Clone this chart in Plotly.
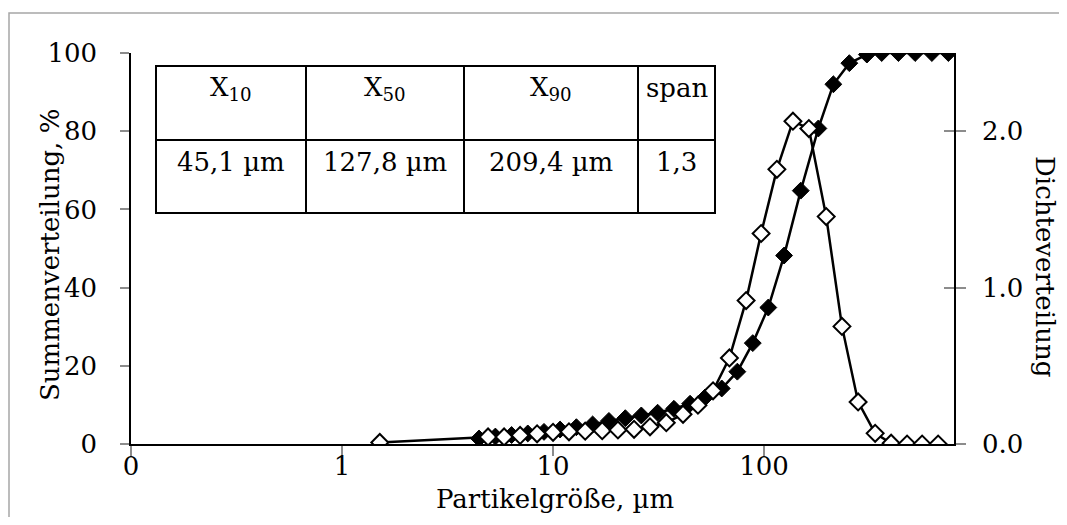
import plotly.graph_objects as go

# Summenverteilung (cumulative, %) - filled diamonds, left axis
size_q3 = [4.46, 5.33, 6.36, 7.59, 9.06, 10.8, 12.9, 15.4, 18.4, 22.0, 26.2, 31.3, 37.4, 44.6,
           52.5, 63.0, 74.7, 88.4, 104.7, 124.4, 149.2, 180.8, 213, 253.5, 307, 361, 433, 520, 624, 747]
q3 = [1.4, 1.9, 2.3, 2.7, 3.1, 3.7, 4.3, 5.0, 5.9, 6.6, 7.3, 8.0, 9.0, 10.3,
      11.9, 14.2, 18.5, 25.8, 34.9, 48.2, 64.8, 80.7, 92.0, 97.4, 99.6, 100, 100, 100, 100, 100]

# Dichteverteilung (density) - open diamonds, right axis
size_dens = [1.51, 4.92, 5.86, 6.98, 8.40, 10.0, 11.9, 14.2, 17.1, 20.3, 24.2, 28.8, 34.4, 41.3,
             48.6, 57.3, 68.5, 82.2, 96.8, 115, 137, 163, 197, 234, 279, 336, 400, 476, 561, 668]
dens = [0.01, 0.045, 0.045, 0.055, 0.065, 0.075, 0.078, 0.082, 0.085, 0.09, 0.094, 0.11, 0.136, 0.19,
        0.248, 0.34, 0.55, 0.917, 1.346, 1.756, 2.064, 2.017, 1.454, 0.752, 0.269, 0.068, 0.005, 0, 0, 0]

x_tickvals = [0.1, 1, 10, 100]
x_ticktext = ["0", "1", "10", "100"]

table_header = ["X<sub>10</sub>", "X<sub>50</sub>", "X<sub>90</sub>", "span"]
table_values = ["45,1 µm", "127,8 µm", "209,4 µm", "1,3"]

# page body has an 8px margin, so the figure is drawn 8px in from the window edge
OFF = 8
W, H = 1067 - 2 * OFF, 525 - 2 * OFF
# plot area in window pixels
L, R, T, B = 131, 954, 53, 444
FONT = "DejaVu Serif"
FS = 26


def px(x):
    return (x - L) / (R - L)


def py(y):
    return (B - y) / (B - T)


fig = go.Figure()

fig.add_trace(go.Scatter(
    x=size_dens, y=dens, yaxis="y2", mode="lines+markers",
    line=dict(color="black", width=2.5),
    marker=dict(symbol="diamond", size=13, color="white", line=dict(color="black", width=2)),
    showlegend=False))

fig.add_trace(go.Scatter(
    x=size_q3, y=q3, mode="lines+markers",
    line=dict(color="black", width=2.5),
    marker=dict(symbol="diamond", size=13, color="black", line=dict(color="black", width=1)),
    showlegend=False))

# invisible trace to carry the inner half of the right-axis ticks
fig.add_trace(go.Scatter(x=[1], y=[0], yaxis="y3", mode="markers",
                         marker=dict(opacity=0), showlegend=False, hoverinfo="skip"))

shapes = []
# outer chart border
shapes.append(dict(type="rect", xref="paper", yref="paper",
                   x0=px(9), x1=px(1090), y0=py(13), y1=py(560),
                   line=dict(color="#a6a6a6", width=1.5)))

# inset table
cols = [156, 306, 464, 638, 715]
rows = [66, 140, 213]
shapes.append(dict(type="rect", xref="paper", yref="paper",
                   x0=px(cols[0]), x1=px(cols[-1]), y0=py(rows[0]), y1=py(rows[-1]),
                   line=dict(color="black", width=2), fillcolor="white", layer="above"))
for c in cols[1:-1]:
    shapes.append(dict(type="line", xref="paper", yref="paper",
                       x0=px(c), x1=px(c), y0=py(rows[0]), y1=py(rows[-1]),
                       line=dict(color="black", width=2), layer="above"))
shapes.append(dict(type="line", xref="paper", yref="paper",
                   x0=px(cols[0]), x1=px(cols[-1]), y0=py(rows[1]), y1=py(rows[1]),
                   line=dict(color="black", width=2), layer="above"))

txt_font = dict(family=FONT, size=FS, color="black")
annotations = []
for i in range(4):
    xc = (cols[i] + cols[i + 1]) / 2
    annotations.append(dict(text=table_header[i], x=px(xc), y=py(88), xref="paper", yref="paper",
                            xanchor="center", yanchor="middle", showarrow=False, font=txt_font))
    annotations.append(dict(text=table_values[i], x=px(xc), y=py(162), xref="paper", yref="paper",
                            xanchor="center", yanchor="middle", showarrow=False, font=txt_font))

# axis titles
annotations.append(dict(text="Summenverteilung, %", x=px(50), y=py(255), xref="paper", yref="paper",
                        xanchor="center", yanchor="middle", textangle=-90, showarrow=False, font=txt_font))
annotations.append(dict(text="Dichteverteilung", x=px(1045), y=py(266), xref="paper", yref="paper",
                        xanchor="center", yanchor="middle", textangle=90, showarrow=False, font=txt_font))
annotations.append(dict(text="Partikelgröße, µm", x=px(555), y=py(499), xref="paper", yref="paper",
                        xanchor="center", yanchor="middle", showarrow=False, font=txt_font))

tick_gray = "#8c8c8c"
fig.update_layout(
    width=W, height=H,
    margin=dict(l=L - OFF, r=W - (R - OFF), t=T - OFF, b=H - (B - OFF)),
    paper_bgcolor="white", plot_bgcolor="white",
    font=txt_font,
    xaxis=dict(type="log", range=[-1, 2.9], tickvals=x_tickvals, ticktext=x_ticktext,
               showgrid=False, zeroline=False, showline=True, linecolor="black", linewidth=1.5,
               ticks="outside", ticklen=10, tickcolor=tick_gray, tickwidth=1.5,
               ticklabelstandoff=-12),
    yaxis=dict(range=[0, 100], dtick=20, showgrid=False, zeroline=False,
               showline=True, linecolor="black", linewidth=1.5,
               ticks="outside", ticklen=9, tickcolor=tick_gray, tickwidth=1.5,
               ticklabelstandoff=18),
    yaxis2=dict(range=[0, 2.5], dtick=1, tickformat=".1f", overlaying="y", side="right",
                showgrid=False, zeroline=False, showline=True, linecolor="black", linewidth=1.5,
                ticks="outside", ticklen=10, tickcolor=tick_gray, tickwidth=1.5,
                ticklabelstandoff=11),
    yaxis3=dict(range=[0, 2.5], dtick=1, overlaying="y", side="right", anchor="x",
                showgrid=False, zeroline=False, showline=False, showticklabels=False,
                ticks="inside", ticklen=10, tickcolor=tick_gray, tickwidth=1.5),
    shapes=shapes,
    annotations=annotations,
)

fig.write_html("out.html")
